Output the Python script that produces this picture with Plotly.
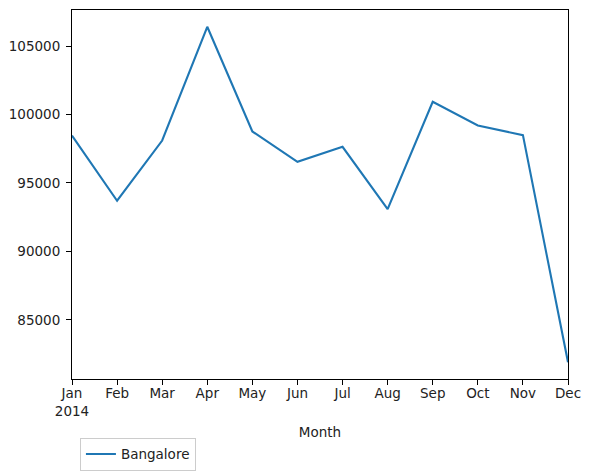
import plotly.graph_objects as go

# monthly figures for 2014
months = ["Jan", "Feb", "Mar", "Apr", "May", "Jun",
          "Jul", "Aug", "Sep", "Oct", "Nov", "Dec"]
bangalore = [98460, 93700, 98100, 106410, 98760, 96540,
             97640, 93080, 100930, 99200, 98490, 81900]
y_ticks = [85000, 90000, 95000, 100000, 105000]

x_pos = list(range(len(months)))
tick_text = ["Jan<br>2014"] + months[1:]

font = dict(family="DejaVu Sans", size=13.5, color="#222222")

fig = go.Figure()
fig.add_trace(go.Scatter(
    x=x_pos,
    y=bangalore,
    mode="lines",
    name="Bangalore",
    line=dict(color="#1f77b4", width=2.1),
))

lo, hi = min(bangalore), max(bangalore)
pad = (hi - lo) * 0.05

axis_style = dict(
    showline=True, linecolor="black", linewidth=1.1, mirror=True,
    showgrid=False, zeroline=False,
    ticks="outside", ticklen=5, tickcolor="black", tickwidth=1.1,
    tickfont=font,
)

# the page body has an 8px margin, so shift the plot area up/left to match
fig.update_layout(
    width=591, height=473,
    margin=dict(l=64, r=31, t=2, b=102),
    paper_bgcolor="white", plot_bgcolor="white",
    font=font,
    showlegend=True,
    legend=dict(
        x=0.016, y=-0.159, xanchor="left", yanchor="top",
        bordercolor="#cccccc", borderwidth=1, bgcolor="white",
        font=font,
    ),
    xaxis=dict(
        **axis_style,
        range=[0, len(months) - 1],
        tickmode="array", tickvals=x_pos, ticktext=tick_text,
        ticklabelstandoff=-3,
        title=dict(text="Month", font=font, standoff=9),
    ),
    yaxis=dict(
        **axis_style,
        range=[lo - pad, hi + pad],
        tickmode="array", tickvals=y_ticks,
        ticktext=[str(v) for v in y_ticks],
        ticklabelstandoff=3,
    ),
)

fig.write_html("out.html")
